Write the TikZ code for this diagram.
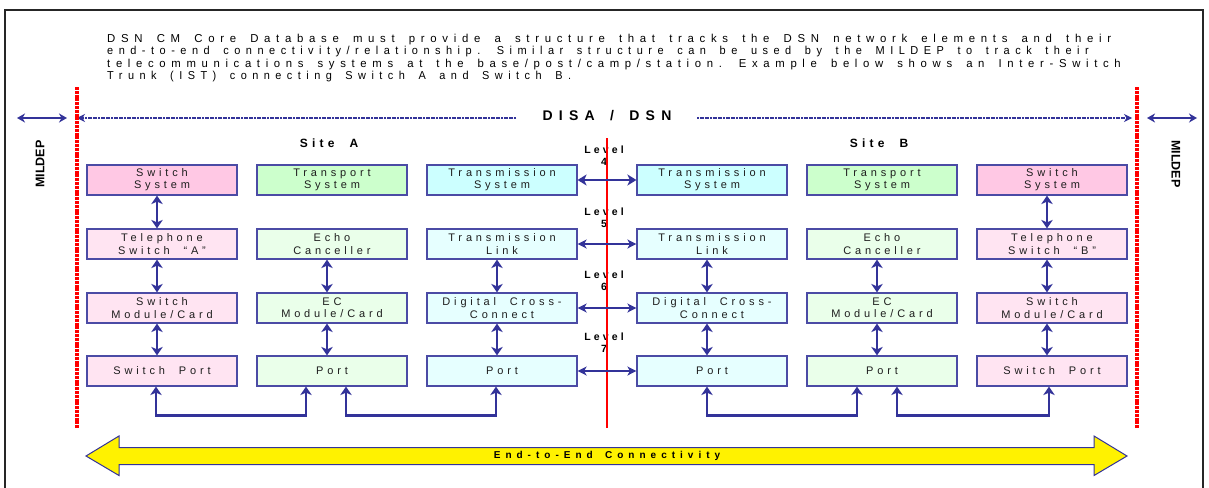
\documentclass[tikz,border=0pt]{standalone}
\usepackage{graphicx}
\usepackage{fontspec}
\setmainfont{Liberation Sans}
\newfontfamily\hdfont[LetterSpace=50,WordSpace=1.6]{Liberation Sans}
\newfontfamily\bxfont[LetterSpace=35,WordSpace=1.6]{Liberation Sans}
\newfontfamily\sitefont[LetterSpace=35,WordSpace=2]{Liberation Sans}
\newfontfamily\disafont[LetterSpace=45,WordSpace=1.5]{Liberation Sans}
\newfontfamily\lvfont[LetterSpace=30]{Liberation Sans}
\newfontfamily\eefont[LetterSpace=50,WordSpace=1.6]{Liberation Sans}
\usetikzlibrary{arrows.meta}
\definecolor{pinkA}{RGB}{255,200,228}
\definecolor{pinkB}{RGB}{255,228,242}
\definecolor{greenA}{RGB}{204,255,204}
\definecolor{greenB}{RGB}{234,255,234}
\definecolor{cyanA}{RGB}{204,255,255}
\definecolor{cyanB}{RGB}{230,255,255}
\definecolor{bord}{RGB}{75,75,165}
\definecolor{arr}{RGB}{51,51,153}
\definecolor{txt}{RGB}{30,30,30}
\definecolor{redl}{RGB}{255,0,0}
\tikzset{
  box/.style={draw=bord, line width=1.2pt, minimum width=150pt, minimum height=30pt,
    inner sep=0pt, align=center, text=txt, font=\bxfont\fontsize{11}{12.3}\selectfont},
  varr/.style={draw=arr, line width=2.6pt, {Stealth[length=8.5pt,width=11.5pt,inset=2.5pt]}-{Stealth[length=8.5pt,width=11.5pt,inset=2.5pt]}},
  harrA/.style={draw=arr, line width=2.8pt, {Stealth[length=9pt,width=11pt,inset=2.5pt]}-{Stealth[length=9pt,width=11pt,inset=2.5pt]}},
  harrB/.style={draw=arr, line width=1.6pt, {Stealth[length=9pt,width=9pt,inset=2.5pt]}-{Stealth[length=9pt,width=9pt,inset=2.5pt]}},
  smarr/.style={draw=arr, line width=2.2pt, {Stealth[length=8pt,width=9pt,inset=2.5pt]}-{Stealth[length=8pt,width=9pt,inset=2.5pt]}},
  dotl/.style={draw=arr, line width=1.1pt, dash pattern=on 2pt off 0.6pt, -{Stealth[length=8pt,width=8pt,inset=2.5pt]}},
  reddash/.style={draw=redl, line width=3.5pt, dash pattern=on 3pt off 0.8pt},
  hdline/.style={anchor=base west, inner sep=0pt, text=black, font=\hdfont\fontsize{11.5}{12}\selectfont},
  sitelbl/.style={inner sep=0pt, font=\sitefont\bfseries\fontsize{12}{12}\selectfont},
  lvl/.style={inner sep=0pt, align=center, font=\lvfont\bfseries\fontsize{10.5}{12.3}\selectfont},
  mil/.style={inner sep=0pt, font=\bfseries\fontsize{12.5}{12.5}\selectfont},
}
\begin{document}
\begin{tikzpicture}[x=1pt,y=-1pt]
\useasboundingbox (0,0) rectangle (1209,487);
\fill[white] (0,0) rectangle (1209,487);
% outer frame
\draw[line width=1.6pt, black!85] (5,10) rectangle (1203,495);

% header text
\node[hdline] (h1) at (107,42.5) {\scalebox{0.99}[1]{DSN CM Core Database must provide a structure that tracks the DSN network elements and their}};
\node[hdline] (h2) at (107,54.8) {\scalebox{0.955}[1]{end-to-end connectivity/relationship. Similar structure can be used by the MILDEP to track their}};
\node[hdline] (h3) at (107,67.1) {\scalebox{0.985}[1]{telecommunications systems at the base/post/camp/station. Example below shows an Inter-Switch}};
\node[hdline] (h4) at (107,79.4) {\scalebox{0.95}[1]{Trunk (IST) connecting Switch A and Switch B.}};

% DISA / DSN
\node[inner sep=0pt, font=\disafont\bfseries\fontsize{14}{14}\selectfont] (disa) at (607,115.5) {DISA / DSN};
\coordinate (lred) at (77,118);
\coordinate (rred) at (1132,118);
\coordinate (ldot) at (516,118);
\coordinate (rdot) at (697,118);
\draw[dotl] (ldot) -- (lred);
\draw[dotl] (rdot) -- (rred);
\coordinate (lm1) at (17,118);
\coordinate (lm2) at (67,118);
\coordinate (rm1) at (1147,118);
\coordinate (rm2) at (1197,118);
\draw[smarr] (lm1) -- (lm2);
\draw[smarr] (rm1) -- (rm2);

% MILDEP
\node[mil, rotate=90] (milA) at (40,164) {MILDEP};
\node[mil, rotate=-90] (milB) at (1176,164) {MILDEP};

% Site labels
\node[sitelbl] (siteA) at (329,143) {Site A};
\node[sitelbl] (siteB) at (879,143) {Site B};

% boxes row 1
\node[box, fill=pinkA]  (a1) at (162,180) {Switch\\System};
\node[box, fill=greenA] (b1) at (332,180) {Transport\\System};
\node[box, fill=cyanA]  (c1) at (502,180) {Transmission\\System};
\node[box, fill=cyanA]  (d1) at (712,180) {Transmission\\System};
\node[box, fill=greenA] (e1) at (882,180) {Transport\\System};
\node[box, fill=pinkA]  (f1) at (1052,180) {Switch\\System};
% row 2
\node[box, fill=pinkB]  (a2) at (162,244) {Telephone\\Switch “A”};
\node[box, fill=greenB] (b2) at (332,244) {Echo\\Canceller};
\node[box, fill=cyanB]  (c2) at (502,244) {Transmission\\Link};
\node[box, fill=cyanB]  (d2) at (712,244) {Transmission\\Link};
\node[box, fill=greenB] (e2) at (882,244) {Echo\\Canceller};
\node[box, fill=pinkB]  (f2) at (1052,244) {Telephone\\Switch “B”};
% row 3
\node[box, fill=pinkB]  (a3) at (162,308) {Switch\\Module/Card};
\node[box, fill=greenB] (b3) at (332,308) {EC\\Module/Card};
\node[box, fill=cyanB]  (c3) at (502,308) {Digital Cross-\\Connect};
\node[box, fill=cyanB]  (d3) at (712,308) {Digital Cross-\\Connect};
\node[box, fill=greenB] (e3) at (882,308) {EC\\Module/Card};
\node[box, fill=pinkB]  (f3) at (1052,308) {Switch\\Module/Card};
% row 4
\node[box, fill=pinkB]  (a4) at (162,371) {Switch Port};
\node[box, fill=greenB] (b4) at (332,371) {Port};
\node[box, fill=cyanB]  (c4) at (502,371) {Port};
\node[box, fill=cyanB]  (d4) at (712,371) {Port};
\node[box, fill=greenB] (e4) at (882,371) {Port};
\node[box, fill=pinkB]  (f4) at (1052,371) {Switch Port};

% level labels
\node[lvl] (l4) at (604,155.5) {Level\\4};
\node[lvl] (l5) at (604,218) {Level\\5};
\node[lvl] (l6) at (604,280.5) {Level\\6};
\node[lvl] (l7) at (604,343) {Level\\7};

% red lines
\coordinate (rlt) at (77,87);  \coordinate (rlb) at (77,428);
\coordinate (rrt) at (1137,87); \coordinate (rrb) at (1137,428);
\coordinate (rct) at (607,138); \coordinate (rcb) at (607,428);
\draw[reddash] (rlt) -- (rlb);
\draw[reddash] (rrt) -- (rrb);
\draw[redl, line width=1.6pt] (rct) -- (rcb);

% vertical arrows
\draw[varr] ([xshift=-5pt]a1.south) -- ([xshift=-5pt]a2.north);
\draw[varr] ([xshift=-5pt]a2.south) -- ([xshift=-5pt]a3.north);
\draw[varr] ([xshift=-5pt]a3.south) -- ([xshift=-5pt]a4.north);
\draw[varr] ([xshift=-5pt]b2.south) -- ([xshift=-5pt]b3.north);
\draw[varr] ([xshift=-5pt]b3.south) -- ([xshift=-5pt]b4.north);
\draw[varr] ([xshift=-5pt]c2.south) -- ([xshift=-5pt]c3.north);
\draw[varr] ([xshift=-5pt]c3.south) -- ([xshift=-5pt]c4.north);
\draw[varr] ([xshift=-5pt]d2.south) -- ([xshift=-5pt]d3.north);
\draw[varr] ([xshift=-5pt]d3.south) -- ([xshift=-5pt]d4.north);
\draw[varr] ([xshift=-5pt]e2.south) -- ([xshift=-5pt]e3.north);
\draw[varr] ([xshift=-5pt]e3.south) -- ([xshift=-5pt]e4.north);
\draw[varr] ([xshift=-5pt]f1.south) -- ([xshift=-5pt]f2.north);
\draw[varr] ([xshift=-5pt]f2.south) -- ([xshift=-5pt]f3.north);
\draw[varr] ([xshift=-5pt]f3.south) -- ([xshift=-5pt]f4.north);

% horizontal arrows across the border
\draw[harrA] (c1.east) -- (d1.west);
\draw[harrB] (c2.east) -- (d2.west);
\draw[harrB] (c3.east) -- (d3.west);
\draw[harrB] (c4.east) -- (d4.west);

% bottom connectors
\draw[varr] ([xshift=-6pt]a4.south) -- ++(0,29) -| ([xshift=-26pt]b4.south);
\draw[varr] ([xshift=14pt]b4.south) -- ++(0,29) -| ([xshift=-6pt]c4.south);
\draw[varr] ([xshift=-5pt]d4.south) -- ++(0,29) -| ([xshift=-25pt]e4.south);
\draw[varr] ([xshift=15pt]e4.south) -- ++(0,29) -| ([xshift=-3pt]f4.south);

% end-to-end arrow
\draw[arr, line width=1pt, fill=yellow] (86,456) -- (119,436) -- (119,447.5) -- (1094,447.5)
  -- (1094,436) -- (1127,456) -- (1094,475.5) -- (1094,464.5) -- (119,464.5) -- (119,475.5) -- cycle;
\node[inner sep=0pt, font=\eefont\bfseries\fontsize{10}{10}\selectfont] (ee) at (607,456) {End-to-End Connectivity};
\end{tikzpicture}
\end{document}
